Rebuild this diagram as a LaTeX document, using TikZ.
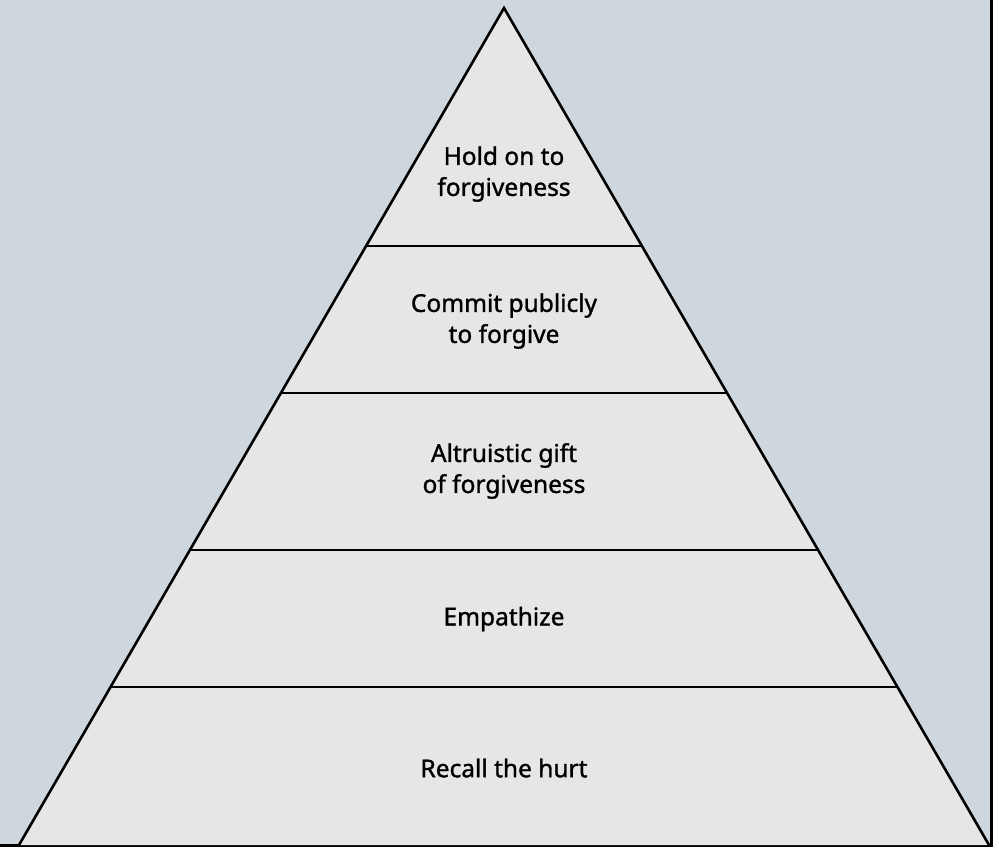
\documentclass[tikz,border=0pt]{standalone}
\usepackage{fontspec}
\setmainfont{Noto Sans}[FakeBold=1.3]
\definecolor{bggray}{HTML}{CFD7DE}
\definecolor{tri}{HTML}{E6E6E6}
\begin{document}
\begin{tikzpicture}[x=1pt,y=-1pt,
  lbl/.style={align=center,font=\fontsize{24.5}{31}\selectfont,text=black},
  edge/.style={line width=2.6pt,line join=miter}]
\useasboundingbox (0,0) rectangle (999,847);
\fill[white] (0,0) rectangle (999,847);
\fill[bggray] (0,0) rectangle (991,846);
\draw[line width=3pt] (991,0) -- (991,847);
\draw[line width=2.5pt] (0,845.5) -- (991,845.5);
\coordinate (apex) at (504,8);
\coordinate (bl) at (19,845);
\coordinate (br) at (989,845);
\fill[tri] (apex) -- (bl) -- (br) -- cycle;
\foreach \y in {246,393,550,687} {
  \pgfmathsetmacro{\dx}{(\y-8)/837*485}
  \draw[edge] ({504-\dx},\y) -- ({504+\dx},\y);
}
\draw[edge] (bl) -- (apex) -- (br);
\node[lbl] (t1) at (504,174) {Hold on to\\forgiveness};
\node[lbl] (t2) at (504,321) {Commit publicly\\to forgive};
\node[lbl] (t3) at (504,471) {Altruistic gift\\of forgiveness};
\node[lbl] (t4) at (504,619) {Empathize};
\node[lbl] (t5) at (504,768) {Recall the hurt};
\end{tikzpicture}
\end{document}
